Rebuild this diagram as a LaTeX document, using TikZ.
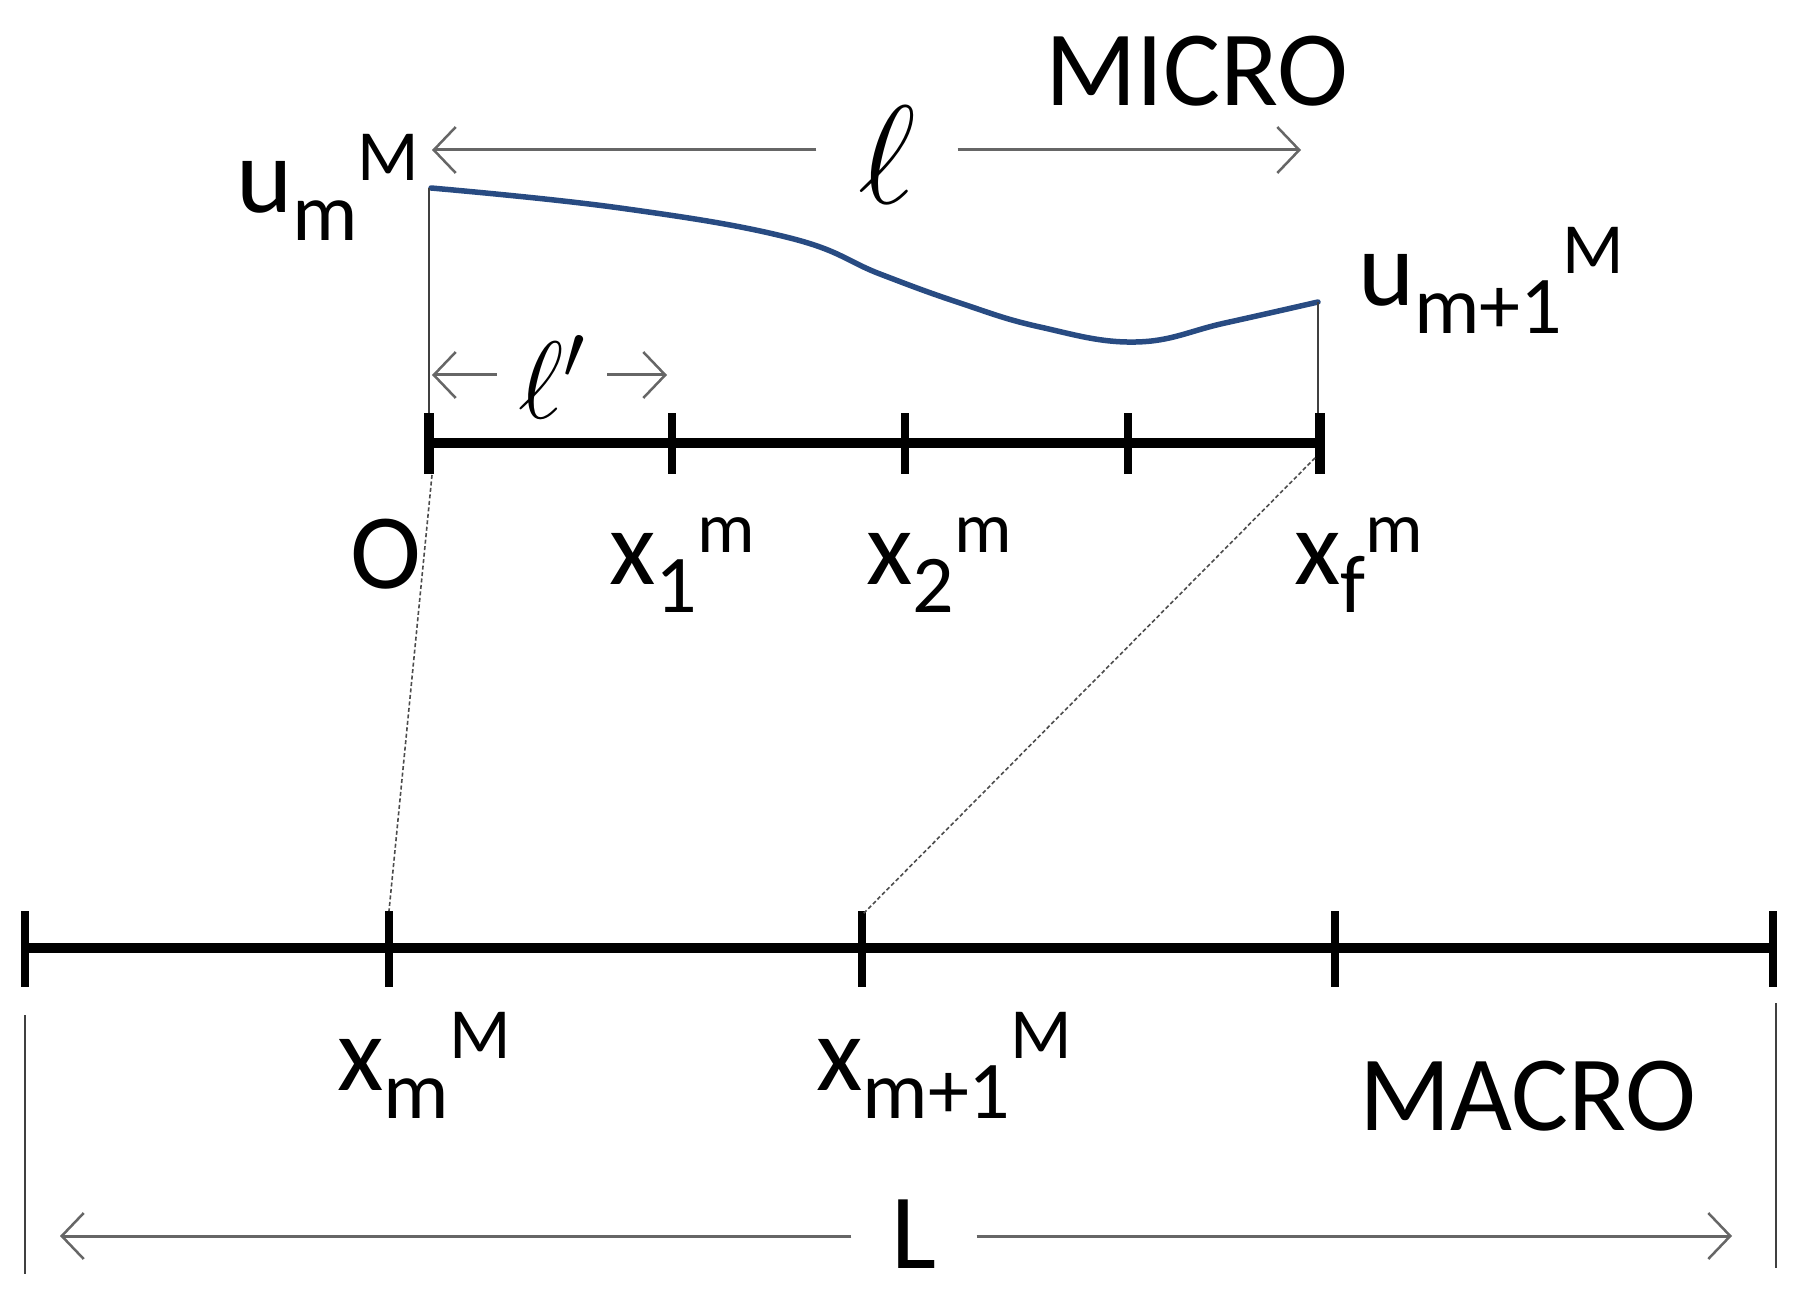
\RequirePackage{fix-cm}
\documentclass[tikz,border=0pt]{standalone}
\usepackage{fontspec}
\setmainfont{Carlito}
\usetikzlibrary{arrows.meta}
\definecolor{curveblue}{RGB}{40,75,130}
\newcommand{\subf}{\fontsize{82}{90}\selectfont}
\newcommand{\supf}{\fontsize{72}{80}\selectfont}
\newcommand{\lab}[3]{#1\raisebox{-28pt}{\subf #2}\raisebox{32pt}{\supf #3}}
\begin{document}
\begin{tikzpicture}[x=1pt,y=-1pt,
  every node/.style={inner sep=0pt, font=\fontsize{107}{120}\selectfont},
  axis/.style={line width=10.5pt},
  tickmark/.style={line width=7.5pt},
  endmark/.style={line width=9.5pt},
  guide/.style={line width=2pt, black!75},
  dim/.style={line width=3pt, black!60, -{Straight Barb[length=22pt,width=46pt,line width=2.5pt]}},
  link/.style={line width=1.6pt, dash pattern=on 4pt off 2.5pt, black!70},
  curve/.style={line width=5.5pt, curveblue, line cap=round}]
\useasboundingbox (0,0) rectangle (1808,1297);

% ---------- MICRO part ----------
\node (micro) at (1197,71) {MICRO};

\coordinate (lA) at (432,150);
\coordinate (lB) at (1301,150);
\node[minimum width=141pt] (ell) at (887,155) {\fontsize{140}{150}\selectfont$\ell$};
\draw[dim] (ell.west |- lA) -- (lA);
\draw[dim] (ell.east |- lB) -- (lB);

\node[anchor=base west] (um) at (236,213) {\lab{u}{m}{M}};
\node[anchor=base west] (um1) at (1358,306) {\lab{u}{m+1}{M}};

\coordinate (uL) at (429,188);
\coordinate (uR) at (1318,302);
\draw[curve] plot[smooth, tension=0.7] coordinates {(431,188) (620,208) (790,238) (880,274) (960,303) (1040,327) (1136,342) (1225,323) (1318,302)};

\coordinate (m0) at (429,443);
\coordinate (m1) at (672,443);
\coordinate (m2) at (905,443);
\coordinate (m3) at (1128,443);
\coordinate (m4) at (1320,443);
\draw[guide] (uL) -- (m0);
\draw[guide] (uR) -- (uR |- m4);

\coordinate (lpA) at (432,375);
\coordinate (lpB) at (667,375);
\node[minimum width=110pt] (ellp) at (552,377) {\fontsize{110}{120}\selectfont$\ell'$};
\draw[dim] (ellp.west |- lpA) -- (lpA);
\draw[dim] (ellp.east |- lpB) -- (lpB);

\draw[axis] (m0) -- (m4);
\draw[endmark] (429,413) -- (429,474);
\draw[tickmark] (672,413) -- (672,474);
\draw[tickmark] (905,413) -- (905,474);
\draw[tickmark] (1128,413) -- (1128,474);
\draw[endmark] (1320,413) -- (1320,474);

\node[anchor=base] (o) at (386,588) {O};
\node[anchor=base west] (x1) at (609,584) {\lab{x}{1}{m}};
\node[anchor=base west] (x2) at (866,584) {\lab{x}{2}{m}};
\node[anchor=base west] (xf) at (1294,584) {\lab{x}{f}{m}};

% ---------- MACRO part ----------
\coordinate (M0) at (25,948);
\coordinate (M1) at (389,948);
\coordinate (M2) at (862,948);
\coordinate (M3) at (1335,948);
\coordinate (M4) at (1773,948);
\draw[axis] (M0) -- (M4);
\foreach \xx in {25,389,862,1335,1773}{
  \draw[tickmark] (\xx,911) -- (\xx,987);
}

\coordinate (m0b) at (432,475);
\coordinate (m4b) at (1315,458);
\coordinate (M1t) at (389,911);
\coordinate (M2t) at (862,915);
\draw[link] (m0b) -- (M1t);
\draw[link] (m4b) -- (M2t);

\node[anchor=base west] (xm) at (337,1090) {\lab{x}{m}{M}};
\node[anchor=base west] (xm1) at (816,1090) {\lab{x}{m+1}{M}};
\node[anchor=base] (macro) at (1528,1130) {MACRO};

\draw[guide] (25,1015) -- (25,1274);
\draw[guide] (1776,1003) -- (1776,1268);

\coordinate (LA) at (60,1236);
\coordinate (LB) at (1732,1236);
\node[minimum width=125pt] (L) at (914,1234) {L};
\draw[dim] (L.west |- LA) -- (LA);
\draw[dim] (L.east |- LB) -- (LB);
\end{tikzpicture}
\end{document}
